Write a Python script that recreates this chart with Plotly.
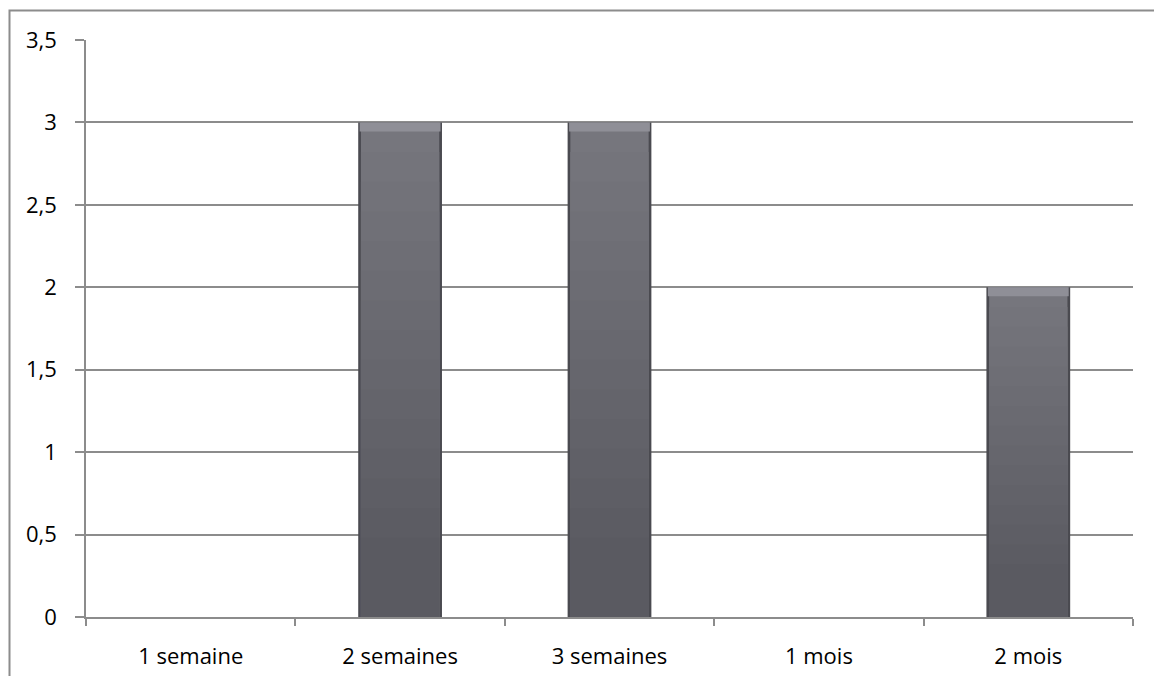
import plotly.graph_objects as go

categories = ["1 semaine", "2 semaines", "3 semaines", "1 mois", "2 mois"]
values = [0, 3, 3, 0, 2]
y_ticks = [0, 0.5, 1, 1.5, 2, 2.5, 3, 3.5]
y_tick_labels = ["0", "0,5", "1", "1,5", "2", "2,5", "3", "3,5"]

FONT = "Open Sans"
FONT_SIZE = 22
GRID = "#8c8c8c"

BAR_W = 0.40          # bar width as fraction of a category slot
FACE_W = 0.374        # inner face, leaving darker bevelled sides
BEVEL_H = 0.055       # lighter top bevel, in data units

# vertical shading of the face: (fraction of bar height, grey level), top to bottom
SHADES = [(1.00 - i * 0.06, 0x76 - i * 2) for i in range(15)]

fig = go.Figure()

# dark outer edge of each bar
fig.add_trace(go.Bar(
    x=categories, y=values, width=BAR_W,
    marker=dict(color="#4a4a50", line=dict(width=0)),
    showlegend=False,
))
# shaded face
for frac, lvl in SHADES:
    col = f"rgb({lvl},{lvl},{lvl + 7})"
    fig.add_trace(go.Bar(
        x=categories, y=[v * frac for v in values], width=FACE_W,
        marker=dict(color=col, line=dict(width=0)),
        hoverinfo="skip", showlegend=False,
    ))
# light top bevel
fig.add_trace(go.Bar(
    x=categories,
    y=[BEVEL_H if v > 0 else 0 for v in values],
    base=[v - BEVEL_H if v > 0 else 0 for v in values],
    width=BAR_W - 0.014,
    marker=dict(color="#8f8f97", line=dict(width=0)),
    hoverinfo="skip", showlegend=False,
))

fig.update_layout(
    width=1154, height=676,
    margin=dict(l=86, r=21, t=40, b=59),
    paper_bgcolor="white", plot_bgcolor="white",
    barmode="overlay",
    separators=", ",
    font=dict(family=FONT, size=FONT_SIZE, color="#000000"),
    showlegend=False,
    shapes=[dict(
        type="rect", xref="paper", yref="paper",
        x0=(9.5 - 86) / 1047, x1=(1160 - 86) / 1047,
        y0=-(690 - 617) / 577, y1=(617 - 10.5) / 577,
        line=dict(color="#8c8c8c", width=2), fillcolor="rgba(0,0,0,0)",
        layer="below",
    )],
)

fig.update_xaxes(
    type="category",
    automargin=False,
    showgrid=False,
    showline=True, linecolor=GRID, linewidth=2,
    ticks="outside", tickson="boundaries", ticklen=7, tickcolor=GRID, tickwidth=1.5,
    ticklabelstandoff=19,
    tickfont=dict(family=FONT, size=FONT_SIZE, color="#000000"),
)

fig.update_yaxes(
    range=[0, 3.5],
    automargin=False,
    tickvals=y_ticks, ticktext=y_tick_labels,
    showgrid=True, gridcolor=GRID, gridwidth=1.5,
    zeroline=False,
    showline=True, linecolor=GRID, linewidth=1.5,
    ticks="outside", ticklen=9, tickcolor=GRID, tickwidth=1.5,
    ticklabelstandoff=14,
    tickfont=dict(family=FONT, size=FONT_SIZE, color="#000000"),
)

fig.write_html("out.html")
